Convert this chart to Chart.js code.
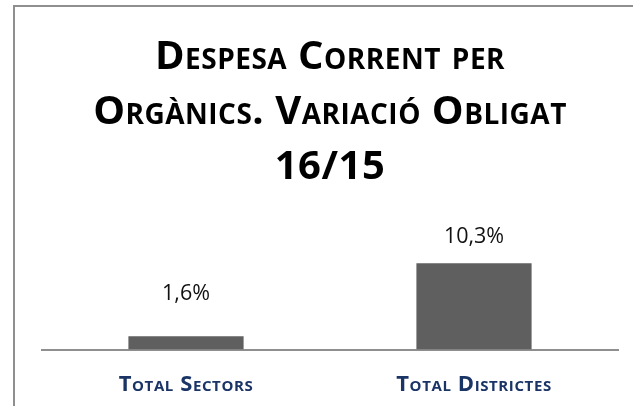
<!DOCTYPE html>
<html>
<head>
<meta charset="utf-8">
<script src="https://cdn.jsdelivr.net/npm/chart.js@4"></script>
<style>
  html, body { margin: 0; padding: 0; background: #fff; overflow: hidden; width: 633px; height: 406px; }
  #box { position: absolute; left: 13px; top: 5px; width: 634px; height: 420px; border: 2px solid #8f8f8f; background: #fff; }
  #box canvas { display: block; }
</style>
</head>
<body>
<div id="box"><canvas id="c" width="634" height="413"></canvas></div>
<script>
const titleLines = ["Despesa Corrent per", "Orgànics. Variació Obligat", "16/15"];
const categories = ["Total Sectors", "Total Districtes"];
const values = [1.6, 10.3];
const yMin = 0;
const yMax = 12;

const labelOffsets = [42, 26];
const fontFamily = "'Open Sans', 'Noto Sans', sans-serif";
const titleSize = 40;
const tickSize = 22;

// letter spacing per font size (canvas text tracking to approximate the original face)
const tracking = {
  id: 'tracking',
  beforeInit(chart) {
    const ctx = chart.ctx;
    const orig = ctx.fillText;
    ctx.fillText = function (t, x, y, mw) {
      const f = this.font;
      if (f.indexOf(titleSize + 'px') >= 0) this.letterSpacing = '0.5px';
      else if (f.indexOf(tickSize + 'px') >= 0) this.letterSpacing = '0.6px';
      else this.letterSpacing = '0px';
      return mw === undefined ? orig.call(this, t, x, y) : orig.call(this, t, x, y, mw);
    };
  }
};

const valueLabels = {
  id: 'valueLabels',
  afterDatasetsDraw(chart) {
    const ctx = chart.ctx;
    const meta = chart.getDatasetMeta(0);
    ctx.save();
    ctx.font = "21.5px " + fontFamily;
    ctx.fillStyle = '#111111';
    ctx.textAlign = 'center';
    ctx.textBaseline = 'middle';
    meta.data.forEach((bar, i) => {
      const v = chart.data.datasets[0].data[i];
      const txt = v.toFixed(1).replace('.', ',') + '%';
      ctx.fillText(txt, bar.x, bar.y - labelOffsets[i]);
    });
    ctx.restore();
  }
};

new Chart(document.getElementById('c'), {
  type: 'bar',
  data: {
    labels: categories,
    datasets: [{
      data: values,
      backgroundColor: '#5f5f5f',
      borderWidth: 0,
      categoryPercentage: 1.0,
      barPercentage: 0.4
    }]
  },
  options: {
    responsive: false,
    animation: false,
    devicePixelRatio: 1,
    layout: { padding: { left: 27, right: 31, top: 0, bottom: 0 } },
    plugins: {
      legend: { display: false },
      tooltip: { enabled: false },
      title: {
        display: true,
        text: titleLines,
        color: '#000000',
        font: { family: fontFamily, size: titleSize, weight: 'small-caps bold', lineHeight: '55px' },
        padding: { top: 23, bottom: 54 }
      }
    },
    scales: {
      x: {
        grid: { display: false, drawTicks: false },
        border: { display: true, color: '#8f8f8f', width: 2 },
        ticks: {
          color: '#1A3466',
          padding: 22,
          font: { family: fontFamily, size: tickSize, weight: 'small-caps bold', lineHeight: 1.2 }
        }
      },
      y: {
        display: false,
        min: yMin,
        max: yMax
      }
    }
  },
  plugins: [tracking, valueLabels]
});
</script>
</body>
</html>
